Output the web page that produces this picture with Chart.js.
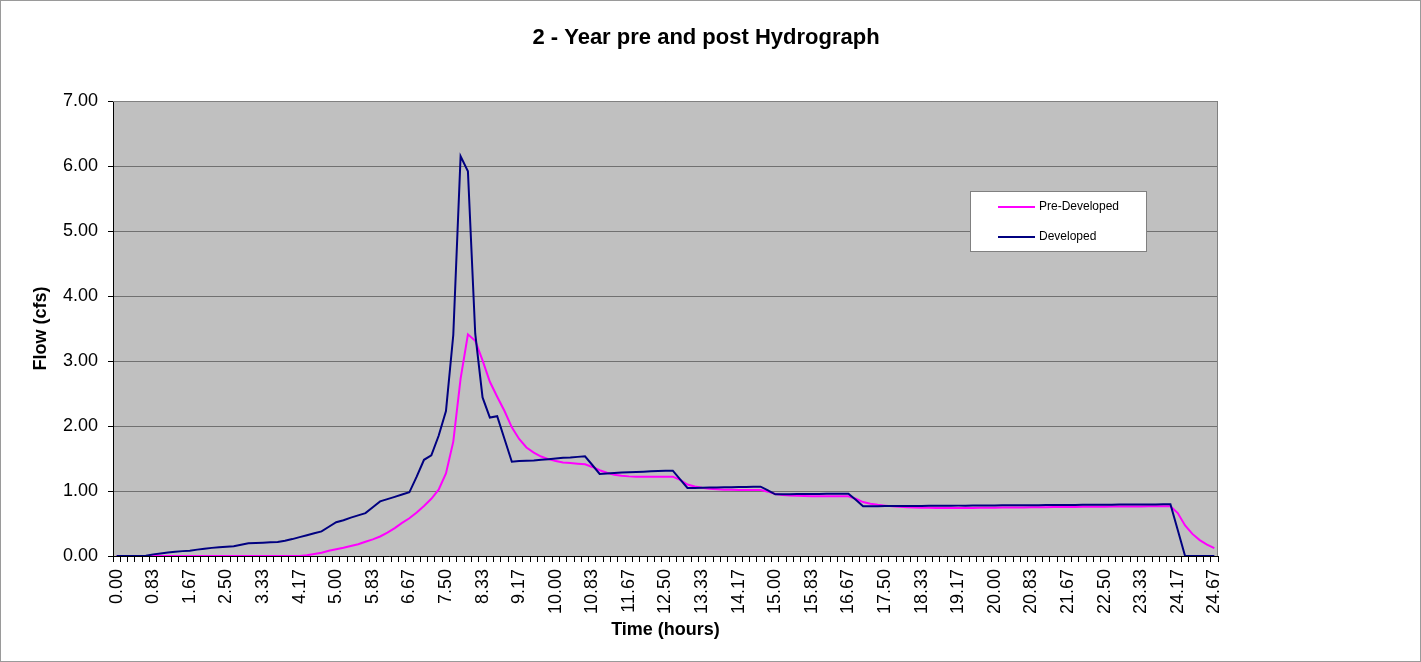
<!DOCTYPE html>
<html>
<head>
<meta charset="utf-8">
<script src="https://cdn.jsdelivr.net/npm/chart.js@4"></script>
<style>
  html, body { margin: 0; padding: 0; background: #fff; }
  canvas { display: block; }
</style>
</head>
<body>
<canvas id="c" width="1421" height="662"></canvas>
<script>
const chartTitle = '2 - Year pre and post Hydrograph';

// Tick labels shown every 5th category (151 categories, 10-minute steps)
const tickLabels = ['0.00','0.83','1.67','2.50','3.33','4.17','5.00','5.83','6.67','7.50',
  '8.33','9.17','10.00','10.83','11.67','12.50','13.33','14.17','15.00','15.83',
  '16.67','17.50','18.33','19.17','20.00','20.83','21.67','22.50','23.33','24.17','24.67'];

const preDeveloped = [
  0,0,0,0,0,0,0,0,0,0,
  0,0,0,0,0,0,0,0,0,0,
  0,0,0,0,0,0,0.01,0.03,0.05,0.08,
  0.105,0.128,0.155,0.18,0.22,0.255,0.30,0.36,0.43,0.51,
  0.58,0.67,0.77,0.88,1.02,1.27,1.76,2.73,3.41,3.31,
  3.01,2.68,2.45,2.23,1.98,1.80,1.67,1.59,1.53,1.49,
  1.46,1.44,1.43,1.42,1.41,1.37,1.32,1.28,1.25,1.235,
  1.225,1.22,1.218,1.218,1.218,1.22,1.22,1.17,1.10,1.07,
  1.05,1.035,1.027,1.021,1.018,1.016,1.015,1.015,1.015,0.99,
  0.955,0.94,0.93,0.925,0.922,0.92,0.919,0.918,0.918,0.918,
  0.918,0.88,0.83,0.805,0.787,0.775,0.765,0.757,0.75,0.746,
  0.743,0.741,0.74,0.739,0.738,0.738,0.739,0.74,0.741,0.742,
  0.743,0.745,0.746,0.747,0.748,0.749,0.75,0.751,0.752,0.753,
  0.754,0.755,0.756,0.757,0.758,0.759,0.76,0.761,0.762,0.763,
  0.763,0.764,0.764,0.765,0.765,0.66,0.47,0.34,0.245,0.175,
  0.12
];

const developed = [
  0,0,0,0,0.005,0.025,0.04,0.055,0.067,0.075,
  0.082,0.098,0.113,0.125,0.135,0.142,0.15,0.172,0.195,0.2,
  0.205,0.21,0.215,0.235,0.26,0.29,0.32,0.35,0.378,0.45,
  0.52,0.55,0.59,0.625,0.66,0.75,0.84,0.875,0.91,0.945,
  0.98,1.22,1.48,1.55,1.85,2.23,3.40,6.15,5.92,3.42,
  2.44,2.13,2.15,1.80,1.45,1.46,1.465,1.47,1.48,1.49,
  1.50,1.51,1.515,1.525,1.533,1.40,1.262,1.27,1.278,1.284,
  1.29,1.293,1.297,1.302,1.308,1.312,1.313,1.18,1.046,1.048,
  1.05,1.052,1.054,1.056,1.058,1.06,1.062,1.065,1.067,1.008,
  0.949,0.95,0.951,0.952,0.953,0.954,0.955,0.956,0.957,0.958,
  0.959,0.866,0.765,0.766,0.767,0.768,0.768,0.769,0.77,0.77,
  0.771,0.772,0.772,0.773,0.774,0.775,0.775,0.776,0.777,0.777,
  0.778,0.779,0.779,0.78,0.781,0.782,0.782,0.783,0.784,0.785,
  0.785,0.786,0.787,0.788,0.788,0.789,0.79,0.791,0.791,0.792,
  0.793,0.793,0.794,0.795,0.795,0.40,0,0,0,0,
  0
];

const yTicks = [0,1,2,3,4,5,6,7];

const categories = developed.map((_, i) => (i % 5 === 0 ? tickLabels[i / 5] : ''));

const FONT = "'Liberation Sans', Arial, sans-serif";

const frame = {
  id: 'frame',
  beforeDraw(chart) {
    const { ctx, chartArea: a } = chart;
    ctx.save();
    ctx.fillStyle = '#fff';
    ctx.fillRect(0, 0, chart.width, chart.height);
    ctx.fillStyle = '#C0C0C0';
    ctx.fillRect(a.left, a.top, a.right - a.left, a.bottom - a.top);
    ctx.restore();
  },
  afterDraw(chart) {
    const { ctx, chartArea: a } = chart;
    ctx.save();
    ctx.strokeStyle = '#808080';
    ctx.lineWidth = 1;
    ctx.beginPath();
    ctx.moveTo(a.left, a.top + 0.5);
    ctx.lineTo(a.right - 0.5, a.top + 0.5);
    ctx.lineTo(a.right - 0.5, a.bottom);
    ctx.stroke();
    ctx.strokeStyle = '#9a9a9a';
    ctx.strokeRect(0.5, 0.5, chart.width - 1, chart.height - 1);

    // title
    ctx.fillStyle = '#000';
    ctx.font = 'bold 22px ' + FONT;
    ctx.textAlign = 'center';
    ctx.textBaseline = 'middle';
    ctx.fillText(chartTitle, 706, 37.5);

    // legend
    const bx = 970.5, by = 191.5, bw = 176, bh = 60;
    ctx.fillStyle = '#fff';
    ctx.fillRect(bx, by, bw, bh);
    ctx.strokeStyle = '#808080';
    ctx.strokeRect(bx, by, bw, bh);
    const rows = [207, 237];
    chart.data.datasets.forEach((ds, i) => {
      ctx.strokeStyle = ds.borderColor;
      ctx.lineWidth = 2;
      ctx.beginPath();
      ctx.moveTo(998, rows[i]);
      ctx.lineTo(1035, rows[i]);
      ctx.stroke();
      ctx.fillStyle = '#000';
      ctx.font = '12px ' + FONT;
      ctx.textBaseline = 'middle';
      ctx.textAlign = 'left';
      ctx.fillText(ds.label, 1039, rows[i]);
    });
    ctx.restore();
  }
};

new Chart(document.getElementById('c'), {
  type: 'line',
  data: {
    labels: categories,
    datasets: [
      { label: 'Pre-Developed', data: preDeveloped, borderColor: '#FF00FF', borderWidth: 2,
        pointRadius: 0, tension: 0, fill: false, order: 1 },
      { label: 'Developed', data: developed, borderColor: '#000080', borderWidth: 2,
        pointRadius: 0, tension: 0, fill: false, order: 0 }
    ]
  },
  options: {
    responsive: false,
    devicePixelRatio: 1,
    animation: false,
    layout: { padding: { left: 26, right: 203, top: 101, bottom: 17.2 } },
    plugins: {
      legend: { display: false },
      tooltip: { enabled: false },
      title: { display: false }
    },
    scales: {
      x: {
        type: 'category',
        offset: true,
        grid: { offset: true, drawOnChartArea: false, drawTicks: true, tickLength: 6, color: '#000', lineWidth: 1 },
        border: { color: '#000', width: 1 },
        ticks: {
          autoSkip: false, maxRotation: 90, minRotation: 90, padding: 7, color: '#000',
          font: { family: FONT, size: 18 },
          callback: function (v, i) { return categories[i]; }
        },
        title: { display: true, text: 'Time (hours)', color: '#000',
          font: { family: FONT, size: 18, weight: 'bold' }, padding: { top: 4, bottom: 4 } },
        afterFit: s => { s.height = 88.8; }
      },
      y: {
        min: 0, max: 7,
        afterBuildTicks: s => { s.ticks = yTicks.map(v => ({ value: v })); },
        grid: { color: '#707070', lineWidth: 1, tickLength: 5, tickColor: '#000' },
        border: { color: '#000', width: 1 },
        ticks: { padding: 10, color: '#000', font: { family: FONT, size: 18 },
          callback: v => Number(v).toFixed(2) },
        title: { display: true, text: 'Flow (cfs)', color: '#000',
          font: { family: FONT, size: 18, weight: 'bold' }, padding: { top: 4, bottom: 4 } },
        afterFit: s => { s.width = 87; }
      }
    }
  },
  plugins: [frame]
});
</script>
</body>
</html>
